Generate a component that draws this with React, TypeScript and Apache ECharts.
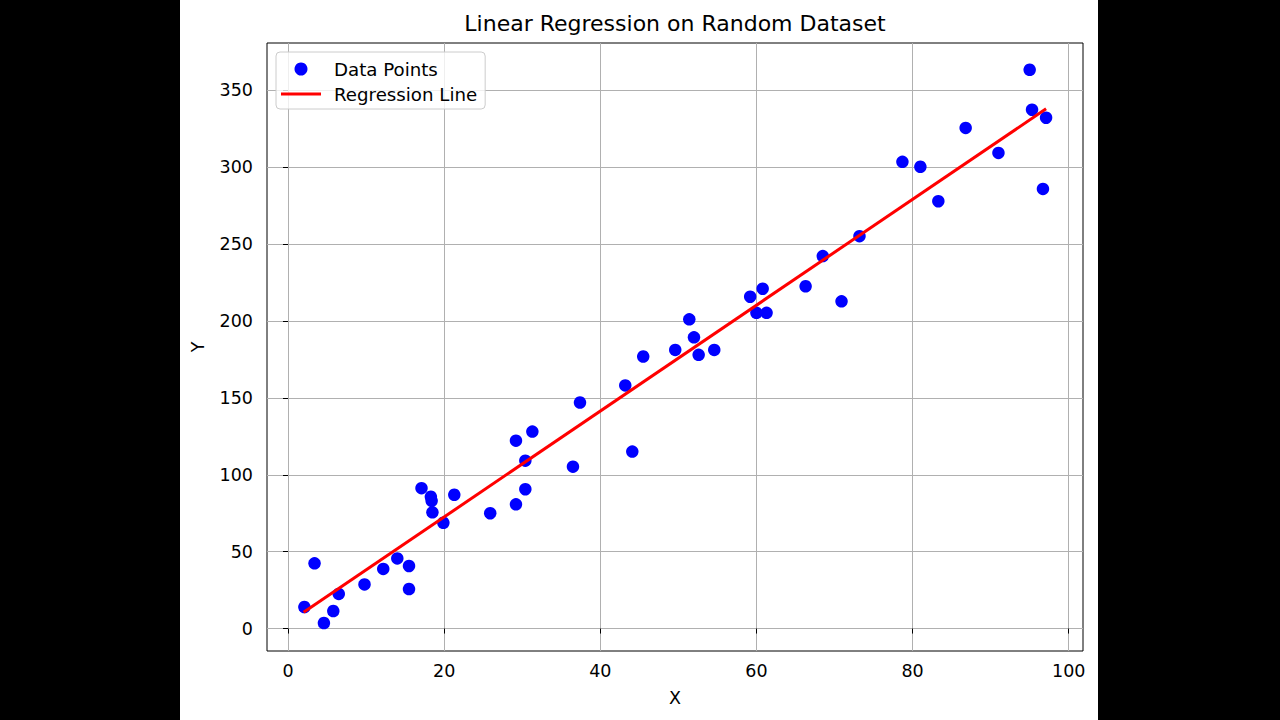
import React, { useEffect, useRef } from "react";
import * as echarts from "echarts";

const pointX = [2.1, 3.4, 4.6, 5.8, 6.5, 9.8, 12.2, 14.0, 15.5, 15.5, 17.1, 18.3, 18.4, 18.5, 19.9, 21.3, 25.9, 29.2, 29.2, 30.4, 30.4, 31.3, 36.5, 37.4, 43.2, 44.1, 45.5, 49.6, 51.4, 52.0, 52.6, 54.6, 59.2, 60.0, 60.8, 61.3, 66.3, 68.5, 70.9, 73.2, 78.7, 81.0, 83.3, 86.8, 91.0, 95.0, 95.3, 97.1, 96.7];
const pointY = [14.0, 42.4, 3.6, 11.4, 22.5, 28.7, 38.8, 45.6, 40.7, 25.7, 91.3, 85.7, 83.1, 75.6, 68.8, 87.0, 75.0, 80.8, 122.2, 109.2, 90.6, 128.1, 105.3, 147.0, 158.1, 115.1, 176.9, 181.2, 201.1, 189.4, 178.0, 181.2, 215.8, 205.3, 221.0, 205.3, 222.6, 242.2, 212.8, 255.2, 303.5, 300.3, 277.9, 325.6, 309.3, 363.4, 337.4, 332.2, 285.9];
const lineX = [2.0, 97.1];
const lineY = [10.6, 338.0];
const xTicks = [0, 20, 40, 60, 80, 100];
const yTicks = [0, 50, 100, 150, 200, 250, 300, 350];

const FONT = "DejaVu Sans";

export default function App() {
  const ref = useRef<HTMLDivElement>(null);
  useEffect(() => {
    if (!ref.current) return;
    const chart = echarts.init(ref.current, null, { renderer: "svg" });
    chart.setOption({
      animation: false,
      backgroundColor: "#ffffff",
      textStyle: { fontFamily: FONT },
      graphic: [
        {
          type: "text",
          x: 495,
          y: 23,
          style: {
            text: "Linear Regression on Random Dataset",
            textAlign: "center",
            textVerticalAlign: "middle",
            fontSize: 22,
            fontFamily: FONT,
            fill: "#000",
          },
        },
      ],
      legend: {
        orient: "vertical",
        left: 96,
        top: 52,
        padding: [8, 8, 6, 5],
        itemWidth: 40,
        itemHeight: 13,
        itemGap: 7,
        borderColor: "#cccccc",
        borderWidth: 1,
        borderRadius: 4,
        backgroundColor: "rgba(255,255,255,0.8)",
        textStyle: { fontSize: 18.2, color: "#000", fontFamily: FONT, padding: [0, 0, 0, 8] },
        data: [
          { name: "Data Points", icon: "circle", itemStyle: { color: "#0000ff", opacity: 1 } },
          {
            name: "Regression Line",
            icon: "path://M0,0L40,0L40,3L0,3Z",
            itemStyle: { color: "#ff0000" },
          },
        ],
      },
      grid: {
        left: 87,
        right: 15,
        top: 43,
        bottom: 69,
        show: true,
        borderColor: "#000",
        borderWidth: 1,
        backgroundColor: "transparent",
      },
      xAxis: {
        type: "value",
        min: -2.69,
        max: 101.83,
        name: "X",
        nameLocation: "middle",
        nameGap: 38,
        nameTextStyle: { fontSize: 17.5, color: "#000", fontFamily: FONT },
        axisLine: { show: false },
        axisTick: { show: true, inside: false, length: 5, lineStyle: { color: "#000" }, customValues: xTicks },
        axisLabel: { fontSize: 17.5, color: "#000", margin: 11, customValues: xTicks, fontFamily: FONT },
        splitLine: { show: true, lineStyle: { color: "#b0b0b0", width: 1 } },
      },
      yAxis: {
        type: "value",
        min: -14.6,
        max: 380.8,
        name: "Y",
        nameLocation: "middle",
        nameGap: 60,
        nameRotate: 90,
        nameTextStyle: { fontSize: 17.5, color: "#000", fontFamily: FONT },
        axisLine: { show: false },
        axisTick: { show: true, inside: false, length: 5, lineStyle: { color: "#000" }, customValues: yTicks },
        axisLabel: { fontSize: 17.5, color: "#000", margin: 14, customValues: yTicks, fontFamily: FONT },
        splitLine: { show: true, lineStyle: { color: "#b0b0b0", width: 1 } },
      },
      series: [
        {
          name: "Data Points",
          type: "scatter",
          symbol: "circle",
          symbolSize: 12.5,
          itemStyle: { color: "#0000ff", opacity: 1 },
          data: pointX.map((x, i) => [x, pointY[i]]),
          z: 2,
        },
        {
          name: "Regression Line",
          type: "line",
          symbol: "none",
          lineStyle: { color: "#ff0000", width: 3 },
          itemStyle: { color: "#ff0000" },
          data: lineX.map((x, i) => [x, lineY[i]]),
          z: 3,
        },
      ],
    });
    return () => chart.dispose();
  }, []);
  return (
    <div style={{ position: "fixed", left: 0, top: 0, width: 1280, height: 720, background: "#000" }}>
      <div ref={ref} style={{ position: "absolute", left: 180, top: 0, width: 918, height: 720 }} />
    </div>
  );
}
